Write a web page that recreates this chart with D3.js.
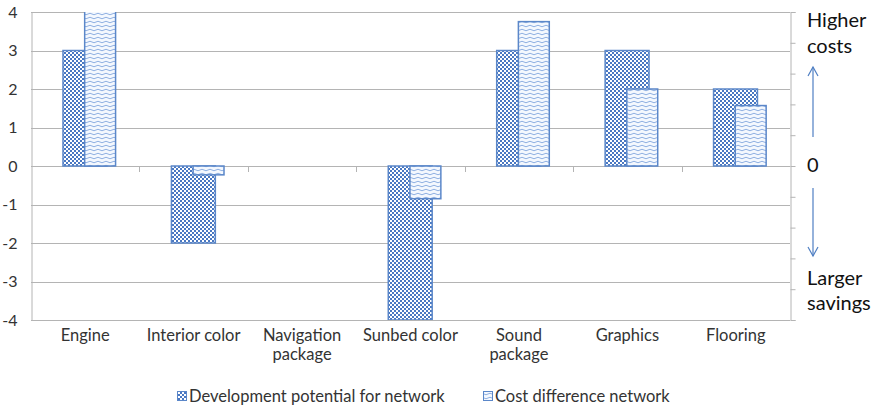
<!DOCTYPE html>
<html>
<head>
<meta charset="utf-8">
<script src="https://cdn.jsdelivr.net/npm/d3@7"></script>
<style>
  html, body { margin: 0; padding: 0; background: #fff; }
  svg text { font-family: Lato, "Open Sans", sans-serif; }
</style>
</head>
<body>
<svg id="chart" width="879" height="409"></svg>
<script>
// Feature categories (multi-line labels split on "\n")
const categories = ["Engine", "Interior color", "Navigation\npackage", "Sunbed color", "Sound\npackage", "Graphics", "Flooring"];
// Series values
const developmentPotential = [3, -2, 0, -4, 3, 3, 2];
const costDifference = [4.4, -0.23, 0, -0.85, 3.75, 2, 1.57];
const yTicks = [-4, -3, -2, -1, 0, 1, 2, 3, 4];
const seriesNames = ["Development potential for network", "Cost difference network"];

const svg = d3.select("#chart");
const margin = { left: 31, right: 89, top: 12, bottom: 89 };
const W = 879, H = 409;
const plotW = W - margin.left - margin.right;
const plotH = H - margin.top - margin.bottom;

const x = d3.scaleBand().domain(categories).range([margin.left, margin.left + plotW]).paddingInner(0).paddingOuter(0);
const y = d3.scaleLinear().domain([-4, 4]).range([margin.top + plotH, margin.top]);

const blue = "#4a78c2";
const border = "#5b87c9";

// Fill patterns
const defs = svg.append("defs");
const checker = defs.append("pattern").attr("id", "checker").attr("patternUnits", "userSpaceOnUse")
  .attr("width", 4).attr("height", 4);
checker.append("rect").attr("width", 4).attr("height", 4).attr("fill", "#ffffff");
checker.append("rect").attr("x", 0).attr("y", 0).attr("width", 2).attr("height", 2).attr("fill", blue);
checker.append("rect").attr("x", 2).attr("y", 2).attr("width", 2).attr("height", 2).attr("fill", blue);

const wave = defs.append("pattern").attr("id", "wave").attr("patternUnits", "userSpaceOnUse")
  .attr("width", 8).attr("height", 4);
wave.append("rect").attr("width", 8).attr("height", 4).attr("fill", "#f4f8fe");
wave.append("path").attr("d", "M0,2 Q2,0.5 4,2 T8,2").attr("fill", "none")
  .attr("stroke", "#8fb0e2").attr("stroke-width", 1);

defs.append("clipPath").attr("id", "plotClip").append("rect")
  .attr("x", margin.left).attr("y", margin.top).attr("width", plotW).attr("height", plotH);

// Gridlines
svg.append("g").selectAll("line").data(yTicks).join("line")
  .attr("x1", margin.left).attr("x2", margin.left + plotW)
  .attr("y1", d => Math.round(y(d)) + 0.5).attr("y2", d => Math.round(y(d)) + 0.5)
  .attr("stroke", "#b4b4b4").attr("stroke-width", 1);

// Left axis
const yAxis = d3.axisLeft(y).tickValues(yTicks).tickSize(0).tickPadding(14).tickFormat(d => String(d));
const gy = svg.append("g").attr("transform", `translate(${margin.left + 0.5},0)`).call(yAxis);
gy.select(".domain").attr("stroke", "#b4b4b4");
gy.selectAll("text").attr("font-size", 16).attr("fill", "#333").attr("font-family", "Lato, sans-serif");

// Right (secondary) axis with minor ticks
const y2 = d3.scaleLinear().domain([0, 10]).range([margin.top + plotH, margin.top]);
const gy2 = svg.append("g").attr("transform", `translate(${margin.left + plotW + 0.5},0)`)
  .call(d3.axisRight(y2).ticks(10).tickSize(5).tickFormat(""));
gy2.select(".domain").attr("stroke", "#b4b4b4");
gy2.selectAll(".tick line").attr("stroke", "#b4b4b4");

// Category separator ticks on the zero line
const seps = categories.slice(1).map(c => x(c));
svg.append("g").selectAll("line").data(seps).join("line")
  .attr("x1", d => Math.round(d) + 0.5).attr("x2", d => Math.round(d) + 0.5)
  .attr("y1", y(0)).attr("y2", y(0) + 6)
  .attr("stroke", "#b4b4b4");

// Bars
const bw = x.bandwidth();
const bars = svg.append("g").attr("clip-path", "url(#plotClip)");
const devData = categories.map((c, i) => ({ c, v: developmentPotential[i] })).filter(d => d.v !== 0);
const costData = categories.map((c, i) => ({ c, v: costDifference[i] })).filter(d => d.v !== 0);

bars.selectAll("rect.dev").data(devData).join("rect").attr("class", "dev")
  .attr("x", d => x(d.c) + bw * 0.295).attr("width", bw * 0.405)
  .attr("y", d => y(Math.max(0, d.v))).attr("height", d => Math.abs(y(d.v) - y(0)))
  .attr("fill", "url(#checker)").attr("stroke", border).attr("stroke-width", 1.5);

bars.selectAll("rect.cost").data(costData).join("rect").attr("class", "cost")
  .attr("x", d => x(d.c) + bw * 0.495).attr("width", bw * 0.285)
  .attr("y", d => y(Math.max(0, d.v))).attr("height", d => Math.abs(y(d.v) - y(0)))
  .attr("fill", "url(#wave)").attr("stroke", border).attr("stroke-width", 1.5);

// Category labels
const cl = svg.append("g").selectAll("text").data(categories).join("text")
  .attr("x", d => x(d) + bw / 2).attr("y", 341)
  .attr("text-anchor", "middle").attr("font-size", 16.5).attr("fill", "#333");
cl.each(function(d) {
  const parts = d.split("\n");
  d3.select(this).selectAll("tspan").data(parts).join("tspan")
    .attr("x", x(d) + bw / 2).attr("dy", (p, i) => i === 0 ? 0 : 19).text(p => p);
});

// Right-hand annotation
const ax = 813;
const ann = svg.append("g").attr("font-size", 20).attr("fill", "#111");
ann.append("text").attr("x", 807).attr("y", 27).text("Higher");
ann.append("text").attr("x", 807).attr("y", 53).text("costs");
ann.append("text").attr("x", 807).attr("y", 172).text("0");
ann.append("text").attr("x", 807).attr("y", 285).text("Larger");
ann.append("text").attr("x", 807).attr("y", 310).text("savings");

const arrowColor = "#4f7fc3";
const arrows = svg.append("g").attr("stroke", arrowColor).attr("stroke-width", 1.2).attr("fill", "none");
arrows.append("line").attr("x1", ax).attr("x2", ax).attr("y1", 137).attr("y2", 67);
arrows.append("path").attr("d", `M${ax - 5},${76} L${ax},${67} L${ax + 5},${76}`);
arrows.append("line").attr("x1", ax).attr("x2", ax).attr("y1", 188).attr("y2", 256);
arrows.append("path").attr("d", `M${ax - 5},${247} L${ax},${256} L${ax + 5},${247}`);

// Legend
const legend = svg.append("g").attr("font-size", 16.5).attr("fill", "#333");
const legendItems = [
  { name: seriesNames[0], fill: "url(#checker)", x: 177 },
  { name: seriesNames[1], fill: "url(#wave)", x: 483 }
];
legendItems.forEach(it => {
  legend.append("rect").attr("x", it.x + 0.5).attr("y", 391.5).attr("width", 9).attr("height", 9)
    .attr("fill", it.fill).attr("stroke", border).attr("stroke-width", 1);
  legend.append("text").attr("x", it.x + 12).attr("y", 402).text(it.name);
});
</script>
</body>
</html>
